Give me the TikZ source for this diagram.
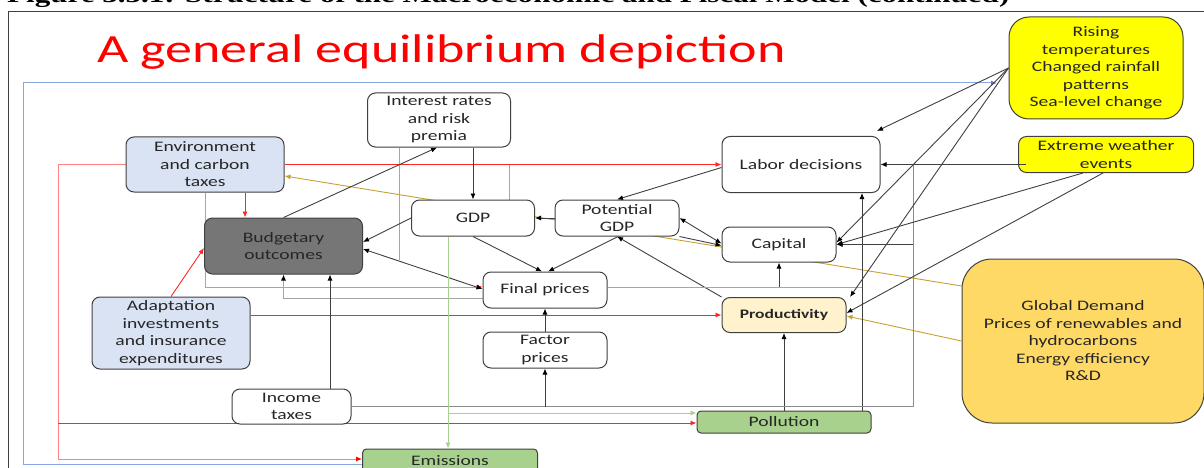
\documentclass[tikz,border=0pt]{standalone}
\usepackage{fontspec}
\setmainfont{Carlito}[FakeStretch=1.35]
\newfontfamily\hdrfont{Liberation Serif}[FakeStretch=1.35]
\usetikzlibrary{arrows.meta,backgrounds}
\definecolor{bordc}{HTML}{404040}
\definecolor{txtc}{HTML}{262626}
\definecolor{lblue}{HTML}{DAE3F3}
\definecolor{dgrey}{HTML}{767676}
\definecolor{lyellow}{HTML}{FFF2CC}
\definecolor{lgreen}{HTML}{A9D18E}
\definecolor{yel}{HTML}{FFFF00}
\definecolor{goldf}{HTML}{FFD966}
\definecolor{goldl}{HTML}{C8A032}
\definecolor{greyl}{HTML}{A6A6A6}
\definecolor{midgrey}{HTML}{8C8C8C}
\definecolor{pinkl}{HTML}{FF8080}
\definecolor{bluel}{HTML}{8AA8E0}
\begin{document}
\begin{tikzpicture}[x=1pt,y=-1pt,
  box/.style={draw=bordc, line width=1pt, rounded corners=8pt, fill=white, align=center, inner sep=0pt, text=txtc, font=\fontsize{14.5}{17.5}\selectfont},
  redline/.style={draw=red!85, line width=0.9pt, -{Latex[length=6pt,width=5pt]}},
  pinkline/.style={draw=pinkl, line width=0.9pt},
  pinkarrow/.style={draw=pinkl, line width=0.9pt, -{Latex[length=6pt,width=5pt,color=red]}},
  darkline/.style={draw=bordc, line width=0.9pt, -{Latex[length=6pt,width=5pt,color=black]}},
  darkboth/.style={draw=bordc, line width=0.9pt, {Latex[length=6pt,width=5pt,color=black]}-{Latex[length=6pt,width=5pt,color=black]}},
  greyline/.style={draw=greyl, line width=0.9pt},
  greyarrow/.style={draw=greyl, line width=0.9pt, -{Latex[length=6pt,width=5pt,color=black]}},
  midline/.style={draw=midgrey, line width=0.9pt},
  goldline/.style={draw=goldl, line width=0.9pt, -{Latex[length=6pt,width=5pt]}},
  greenline/.style={draw=lgreen, line width=0.9pt, -{Latex[length=6pt,width=5pt]}},
  blueline/.style={draw=bluel, line width=1pt, -{Latex[length=6pt,width=5pt,color=bluel!70!blue]}},
  frameline/.style={draw=bordc, line width=0.8pt}
]
\useasboundingbox (0,0) rectangle (1204,468);

% header (cropped at the top edge) and title
\node[anchor=base west, inner sep=0pt, font=\hdrfont\bfseries\fontsize{23}{26}\selectfont] (hdr) at (7,2.5) {Figure 3.3.1: Structure of the Macroeconomic and Fiscal Model (continued)};
\node[anchor=base west, inner sep=0pt, text=red, font=\fontsize{40}{46}\selectfont] (title) at (97,63) {A general equilibrium depiction};

% nodes
\node[box, minimum width=143pt, minimum height=54pt] (interest) at (439,120) {Interest rates\\and risk\\premia};
\node[box, fill=lblue, minimum width=158pt, minimum height=55pt] (env) at (205,164.5) {Environment\\and carbon\\taxes};
\node[box, fill=dgrey, minimum width=158pt, minimum height=56pt] (budget) at (283.5,246) {Budgetary\\outcomes};
\node[box, minimum width=123pt, minimum height=36pt] (gdp) at (473,218) {GDP};
\node[box, minimum width=124pt, minimum height=36pt] (potgdp) at (617,218) {Potential\\GDP};
\node[box, minimum width=158pt, minimum height=56pt] (labor) at (801,164.5) {Labor decisions};
\node[box, minimum width=114pt, minimum height=35pt] (capital) at (779,244.5) {Capital};
\node[box, minimum width=124pt, minimum height=36pt] (final) at (545,290) {Final prices};
\node[box, fill=lyellow, minimum width=124pt, minimum height=35pt, font=\bfseries\fontsize{13}{15}\selectfont] (prod) at (784,315) {Productivity};
\node[box, minimum width=124pt, minimum height=36pt] (factor) at (545,350) {Factor\\prices};
\node[box, fill=lblue, minimum width=158pt, minimum height=72pt] (adapt) at (171,333) {Adaptation\\investments\\and insurance\\expenditures};
\node[box, minimum width=119pt, minimum height=35pt] (income) at (291.5,406.5) {Income\\taxes};
\node[box, fill=lgreen, rounded corners=4pt, minimum width=174pt, minimum height=22pt] (pollution) at (784,422) {Pollution};
\node[box, fill=lgreen, rounded corners=4pt, minimum width=175pt, minimum height=23pt] (emissions) at (450,460.5) {Emissions};
\node[box, fill=yel, rounded corners=20pt, minimum width=174pt, minimum height=102pt] (rising) at (1096,68) {Rising\\temperatures\\Changed rainfall\\patterns\\Sea-level change};
\node[box, fill=yel, minimum width=175pt, minimum height=36pt] (extreme) at (1106,154.5) {Extreme weather\\events};
\node[box, fill=goldf, rounded corners=30pt, minimum width=242pt, minimum height=164pt] (global) at (1083,341) {Global Demand\\Prices of renewables and\\hydrocarbons\\Energy efficiency\\R\&D};

% junction coordinates
\coordinate (xl) at (58,459);
\coordinate (xr) at (58,423);
\coordinate (bl) at (23,83);
\coordinate (bt) at (997,83);
\coordinate (j913) at (913,164.5);
\coordinate (jFP) at ([yshift=3pt]final.east);
\coordinate (jFPend) at (862,287);
\coordinate (g1) at ([xshift=36pt]gdp.north);
\coordinate (gx) at ([xshift=-25pt]gdp.south);
\coordinate (pg) at ([yshift=9pt]pollution.west);
\coordinate (ew) at ([xshift=8pt]extreme.west);
\coordinate (iv) at ([xshift=-40pt]interest.south);
\coordinate (ivend) at (399,260);
\coordinate (gw) at ([yshift=55pt]global.west);
\coordinate (eb) at (363,464);

\begin{scope}[on background layer]
  % frames
  \draw[frameline] (8,480) -- (8,11) -- (1215,11);
  \draw[blueline] (eb) -| (bl) -- (bt);
  % gold
  \draw[goldline] (gw) -- ([yshift=-11.5pt]env.east);
  \draw[goldline] (global.west) -- ([yshift=-1pt]prod.east);
  % red / pink
  \draw[redline] (env.east) -- (labor.west);
  \draw[redline] ([xshift=40pt]env.south) -- ([xshift=-38.5pt]budget.north);
  \draw[pinkarrow] (env.west) -| (xl) -- (xl -| emissions.west);
  \draw[redline] (xr) -- ([yshift=-1pt]pollution.west);
  \draw[pinkarrow] (env.south) |- ([yshift=3pt]final.west);
  \draw[pinkline] (g1) -- (g1 |- labor.west);
  \draw[redline] (adapt.east |- prod.west) -- (prod.west);
  \draw[redline] (adapt.north) -- ([yshift=-2pt]budget.west);
  % dark / grey
  \draw[darkline] (interest.south -| gdp.north) -- (gdp.north);
  \draw[greyline] (iv) -- (ivend);
  \draw[darkline] (budget.north) -- ([xshift=-2pt]interest.south);
  \draw[darkline] (gdp.west) -- ([yshift=4pt]budget.east);
  \draw[darkline] (gdp.south) -- ([xshift=-3pt]final.north);
  \draw[darkline] ([xshift=1pt]potgdp.south) -- ([xshift=3pt]final.north);
  \draw[darkline] (prod.north west) -- (potgdp.south);
  \draw[darkline] (potgdp.west) -- (gdp.east);
  \draw[darkboth] (potgdp.east) -- ([yshift=1pt]capital.west);
  \draw[darkline] (potgdp.south east) -- ([yshift=-1pt]capital.west);
  \draw[darkline] ([yshift=-3pt]labor.west) -- (potgdp.north);
  \draw[darkboth] ([yshift=-3pt]budget.east) -- ([yshift=1pt]final.west);
  \draw[greyarrow] ([yshift=-8pt]final.west) -| (budget.south);
  \draw[greyline] (jFP) -- (jFPend);
  \draw[darkline] (capital.south |- jFP) -- (capital.south);
  \draw[darkline] ([xshift=78pt]pollution.north) -- ([xshift=61pt]labor.south);
  \draw[darkline] (pollution.north) -- (prod.south);
  \draw[darkline] ([xshift=38.5pt]income.north) -- ([xshift=46.5pt]budget.south);
  \draw[midline] (j913) |- (income.east);
  \draw[darkline] (j913 |- capital.east) -- (capital.east);
  \draw[darkline] (factor.south |- income.east) -- (factor.south);
  \draw[darkline] (factor.north) -- (final.south);
  \draw[darkline] (rising.west) -- ([xshift=76pt,yshift=5pt]labor.north);
  \draw[darkline] (rising.west) -- ([yshift=2pt]capital.east);
  \draw[darkline] (rising.west) -- ([xshift=66pt]prod.north);
  \draw[darkline] ([xshift=-23pt]extreme.south) -- (capital.east);
  \draw[darkline] ([xshift=-3pt]extreme.south) -- ([yshift=2pt]prod.east);
  % green
  \draw[greenline] (gx) -- (gx |- emissions.north);
  \draw[greenline] (gx |- pg) -- (pg);
\end{scope}
\draw[darkline] (ew |- labor.east) -- (labor.east);
\end{tikzpicture}
\end{document}
